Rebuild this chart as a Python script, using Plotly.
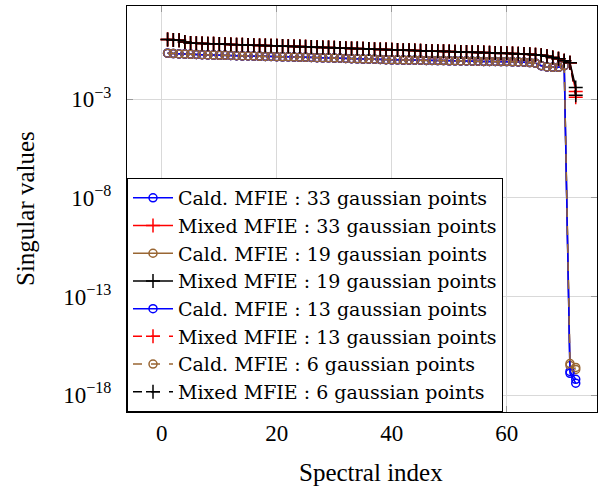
import plotly.graph_objects as go

# Spectral index (x)
spectral_index = list(range(1, 73))

# log10 of singular values (indices 1..71 shared shape)
mixed_body_log = [
    0.03, 0.01, -0.01, -0.10, -0.15, -0.16, -0.17, -0.18, -0.19, -0.20,
    -0.21, -0.22, -0.23, -0.24, -0.25, -0.26, -0.27, -0.27, -0.28, -0.29,
    -0.30, -0.31, -0.32, -0.33, -0.34, -0.35, -0.36, -0.37, -0.38, -0.39,
    -0.40, -0.41, -0.42, -0.43, -0.44, -0.45, -0.46, -0.47, -0.48, -0.49,
    -0.50, -0.51, -0.52, -0.53, -0.54, -0.55, -0.56, -0.56, -0.57, -0.58,
    -0.59, -0.60, -0.60, -0.61, -0.62, -0.63, -0.64, -0.65, -0.66, -0.67,
    -0.68, -0.69, -0.70, -0.72, -0.74, -0.77, -0.82, -0.88, -0.95, -1.05,
    -1.15,
]
cald_body_log = [
    -0.66, -0.68, -0.70, -0.71, -0.72, -0.73, -0.74, -0.75, -0.76, -0.77,
    -0.77, -0.78, -0.79, -0.80, -0.80, -0.81, -0.82, -0.83, -0.83, -0.84,
    -0.85, -0.85, -0.86, -0.87, -0.87, -0.88, -0.89, -0.90, -0.90, -0.91,
    -0.92, -0.93, -0.94, -0.95, -0.96, -0.96, -0.97, -0.98, -0.99, -1.00,
    -1.00, -1.01, -1.01, -1.02, -1.02, -1.03, -1.03, -1.04, -1.04, -1.05,
    -1.05, -1.06, -1.06, -1.07, -1.07, -1.08, -1.08, -1.08, -1.09, -1.09,
    -1.10, -1.11, -1.12, -1.14, -1.17, -1.30, -1.36, -1.38, -1.38, -1.30,
]

# tails (last points)
mixed_33_tail = [-2.6]
mixed_19_tail = [-2.4]
mixed_13_tail = [-2.9]
mixed_6_tail = [-2.8]
cald_33_tail = [-16.8, -17.2]
cald_19_tail = [-16.5, -16.7]
cald_13_tail = [-16.9, -17.4]
cald_6_tail = [-16.4, -16.6]

series = [
    ("Cald. MFIE : 33 gaussian points", cald_body_log + cald_33_tail, "#0000FF", "solid", "circle-open"),
    ("Mixed MFIE : 33 gaussian points", mixed_body_log + mixed_33_tail, "#FF0000", "solid", "cross-thin-open"),
    ("Cald. MFIE : 19 gaussian points", cald_body_log + cald_19_tail, "#996633", "solid", "circle-open"),
    ("Mixed MFIE : 19 gaussian points", mixed_body_log + mixed_19_tail, "#000000", "solid", "cross-thin-open"),
    ("Cald. MFIE : 13 gaussian points", cald_body_log + cald_13_tail, "#0000FF", "solid", "circle-open"),
    ("Mixed MFIE : 13 gaussian points", mixed_body_log + mixed_13_tail, "#FF0000", "dash", "cross-thin-open"),
    ("Cald. MFIE : 6 gaussian points", cald_body_log + cald_6_tail, "#996633", "dash", "circle-open"),
    ("Mixed MFIE : 6 gaussian points", mixed_body_log + mixed_6_tail, "#000000", "dash", "cross-thin-open"),
]

x_title = "Spectral index"
y_title = "Singular values"

FONT = "Liberation Serif"
LEGEND_FONT = "DejaVu Serif"

fig = go.Figure()
for name, logs, color, dash, symbol in series:
    yvals = [10 ** v for v in logs]
    msize = 8 if symbol == "circle-open" else 10
    fig.add_trace(go.Scatter(
        x=spectral_index[:len(yvals)], y=yvals, name=name, mode="lines+markers",
        line=dict(color=color, width=1.5, dash=dash),
        marker=dict(symbol=symbol, size=msize, color=color, line=dict(color=color, width=1.5)),
    ))

fig.update_layout(
    width=606, height=490,
    margin=dict(l=127, r=9, t=6, b=78, autoexpand=False),
    paper_bgcolor="white", plot_bgcolor="white",
    font=dict(family=FONT, size=22, color="black"),
    showlegend=True,
    legend=dict(
        x=0, y=0, xanchor="left", yanchor="bottom",
        bgcolor="white", bordercolor="black", borderwidth=1,
        font=dict(family=LEGEND_FONT, size=19, color="black"),
        tracegroupgap=0, itemwidth=40,
    ),
    annotations=[
        dict(text=x_title, xref="paper", yref="paper", x=0.519, y=-0.148,
             xanchor="center", yanchor="middle", showarrow=False,
             font=dict(family=FONT, size=25, color="black")),
        dict(text=y_title, xref="paper", yref="paper", x=-0.217, y=0.5,
             xanchor="center", yanchor="middle", showarrow=False, textangle=-90,
             font=dict(family=FONT, size=25, color="black")),
    ],
)
fig.update_xaxes(
    range=[-6.06, 75.7], automargin=False,
    tickvals=[0, 20, 40, 60], ticktext=["0", "20", "40", "60"],
    showgrid=True, gridcolor="#d9d9d9", gridwidth=1,
    showline=True, linecolor="black", linewidth=1, mirror="ticks",
    ticks="inside", ticklen=6, tickcolor="#999999",
    zeroline=False,
    tickfont=dict(family=FONT, size=23),
)
fig.update_yaxes(
    type="log", range=[-18.86, 1.73], automargin=False,
    tickvals=[1e-18, 1e-13, 1e-8, 1e-3],
    ticktext=["10<sup>−18</sup>", "10<sup>−13</sup>", "10<sup>−8</sup>", "10<sup>−3</sup>"],
    showgrid=True, gridcolor="#d9d9d9", gridwidth=1,
    showline=True, linecolor="black", linewidth=1, mirror="ticks",
    ticks="inside", ticklen=6, tickcolor="#999999",
    zeroline=False,
    tickfont=dict(family=FONT, size=23),
    ticklabelstandoff=10,
)

fig.write_html("out.html", config={"displayModeBar": False},
               post_script="document.body.style.margin='0';")
